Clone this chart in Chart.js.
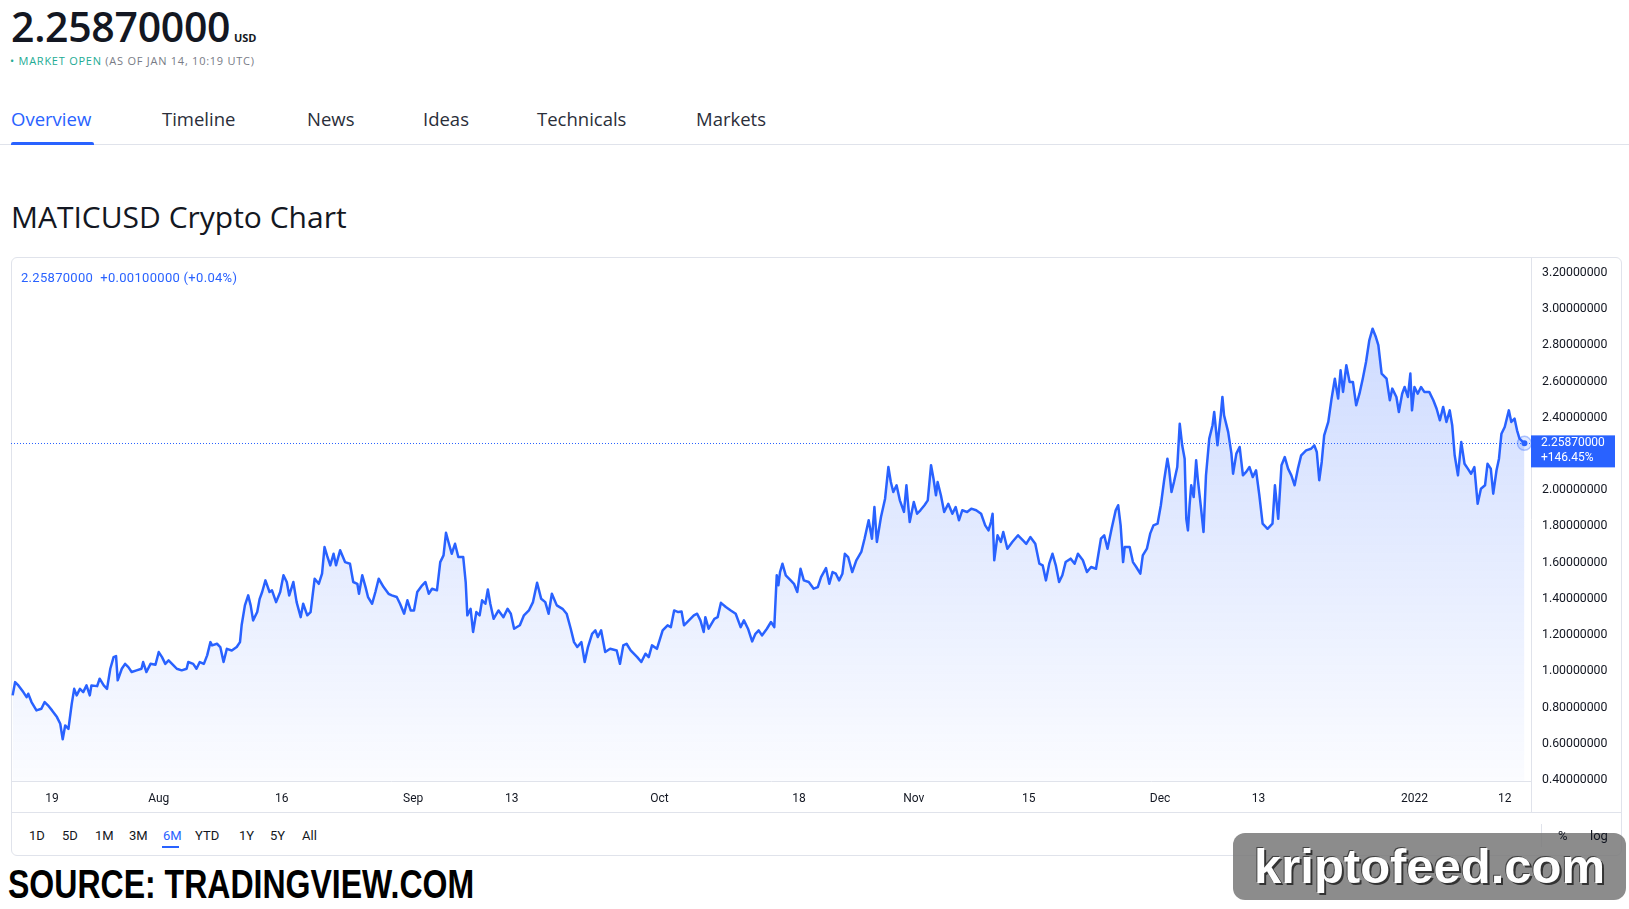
<!DOCTYPE html>
<html>
<head>
<meta charset="utf-8">
<title>MATICUSD Crypto Chart</title>
<script src="https://cdn.jsdelivr.net/npm/chart.js@4.4.1/dist/chart.umd.min.js"></script>
<style>
  body { margin: 0; width: 1629px; height: 909px; background: #fff; position: relative; overflow: hidden;
         font-family: "Open Sans", sans-serif; color: #131722; }
  .abs { position: absolute; white-space: nowrap; line-height: 1; }
  #price { left: 11px; top: 6px; font-size: 41px; font-weight: 600; letter-spacing: -0.3px; }
  #usd { left: 234px; top: 32px; font-size: 11px; font-weight: 700; }
  #market { left: 10px; top: 55px; font-size: 11px; letter-spacing: 0.75px; color: #787b86; }
  #market .open { color: #22ab94; }
  .tab { top: 110px; font-size: 18.5px; color: #2a2e39; }
  .tab.active { color: #2962ff; }
  #tabline { left: 11px; top: 142px; width: 83px; height: 3px; background: #2962ff; border-radius: 2px 2px 0 0; }
  #tabsep { left: 0; top: 144px; width: 1629px; height: 1px; background: #e0e3eb; }
  #title { left: 11px; top: 202px; font-size: 30px; }
  #box { position: absolute; left: 11px; top: 257px; width: 1609px; height: 597px; border: 1px solid #e0e3eb; border-radius: 6px; }
  #legend { left: 21px; top: 271px; font-family: Roboto, sans-serif; font-size: 13px; letter-spacing: 0.3px; color: #2962ff; }
  #chartWrap { position: absolute; left: 11px; top: 257px; width: 1611px; height: 555px; }
  #bottomLine { position: absolute; left: 11px; top: 812px; width: 1611px; height: 1px; background: #e0e3eb; }
  #axisTail { position: absolute; left: 1531px; top: 781px; width: 1px; height: 31px; background: #e0e3eb; }
  .rng { top: 829px; font-family: Roboto, sans-serif; font-size: 13px; color: #131722; z-index: 3; }
  .rng.active { color: #2962ff; }
  #rngline { left: 162px; top: 846px; width: 17px; height: 2px; background: #2962ff; }
  #scalesep { position: absolute; left: 1541px; top: 824px; width: 1px; height: 23px; background: #e0e3eb; }
  #source { left: 8px; top: 864px; font-family: "Liberation Sans Narrow", "Liberation Sans", sans-serif; font-weight: 700;
            font-size: 40px; color: #000; transform-origin: 0 0; }
  #wm { position: absolute; left: 1233px; top: 833px; width: 393px; height: 67px; background: rgba(120,120,120,0.85);
        border-radius: 12px; z-index: 2; }
  #wmText { left: 1254px; top: 843px; font-family: "Liberation Sans Narrow", "Liberation Sans", sans-serif; font-weight: 700;
            font-size: 48px; color: #fff; text-shadow: 2px 2px 0 #333, -1px -1px 0 #444; transform-origin: 0 0; z-index: 4; }
</style>
</head>
<body>
<div class="abs" id="price">2.25870000</div>
<div class="abs" id="usd">USD</div>
<div class="abs" id="market"><span class="open">&bull; MARKET OPEN</span> (AS OF JAN 14, 10:19 UTC)</div>

<div class="abs tab active" style="left:11px">Overview</div>
<div class="abs tab" style="left:162px">Timeline</div>
<div class="abs tab" style="left:307px">News</div>
<div class="abs tab" style="left:423px">Ideas</div>
<div class="abs tab" style="left:537px">Technicals</div>
<div class="abs tab" style="left:696px">Markets</div>
<div class="abs" id="tabsep"></div>
<div class="abs" id="tabline"></div>

<div class="abs" id="title">MATICUSD Crypto Chart</div>

<div id="box"></div>
<div id="chartWrap"><canvas id="maticChart" width="1611" height="555"></canvas></div>
<div class="abs" id="legend">2.25870000&nbsp; +0.00100000 (+0.04%)</div>
<div id="axisTail"></div>
<div id="bottomLine"></div>

<div class="abs rng" style="left:29px">1D</div>
<div class="abs rng" style="left:62px">5D</div>
<div class="abs rng" style="left:95px">1M</div>
<div class="abs rng" style="left:129px">3M</div>
<div class="abs rng active" style="left:163px">6M</div>
<div class="abs rng" style="left:195px">YTD</div>
<div class="abs rng" style="left:239px">1Y</div>
<div class="abs rng" style="left:270px">5Y</div>
<div class="abs rng" style="left:302px">All</div>
<div class="abs" id="rngline"></div>
<div id="scalesep"></div>
<div class="abs rng" style="left:1558px">%</div>
<div class="abs rng" style="left:1590px">log</div>

<div class="abs" id="source">SOURCE: TRADINGVIEW.COM</div>
<div id="wm"></div>
<div class="abs" id="wmText">kriptofeed.com</div>

<script>
// days since Jul 14 2021
const days = [
    0.2, 0.5, 0.9, 1.5, 1.9, 2.1, 2.5, 3.1, 3.7, 4.1, 4.5, 5.0, 5.6, 6.0, 6.3, 6.6, 7.0, 7.4, 7.7, 8.0,
    8.4, 8.8, 9.2, 9.6, 9.8, 10.5, 10.8, 11.3, 11.7, 12.1, 12.5, 12.8, 13.0, 13.5, 13.9, 14.3, 14.7, 15.3, 15.9, 16.1,
    16.5, 17.0, 17.6, 18.0, 18.4, 18.8, 19.2, 19.8, 20.2, 20.8, 21.4, 21.6, 22.2, 22.6, 23.0, 23.5, 23.9, 24.3, 24.5, 25.1,
    25.5, 25.9, 26.3, 26.9, 27.5, 27.9, 28.1, 28.5, 28.9, 29.2, 29.5, 30.0, 30.3, 30.6, 31.0, 31.5, 31.8, 32.3, 32.8, 33.2,
    33.6, 33.9, 34.4, 34.8, 35.3, 35.6, 36.1, 36.5, 37.0, 37.5, 37.9, 38.2, 38.5, 38.9, 39.3, 39.6, 40.1, 40.7, 41.3, 41.7,
    42.2, 42.4, 42.8, 43.2, 43.5, 44.0, 44.4, 44.8, 45.4, 46.0, 46.4, 47.0, 47.4, 47.9, 48.3, 48.7, 49.1, 49.5, 50.1, 50.5,
    50.9, 51.3, 51.9, 52.3, 52.7, 53.0, 53.3, 53.7, 54.1, 54.5, 55.1, 55.4, 55.6, 56.0, 56.3, 56.7, 57.1, 57.4, 57.8, 58.1,
    58.4, 58.8, 59.4, 60.0, 60.5, 60.9, 61.3, 62.0, 62.5, 63.1, 63.6, 64.1, 64.6, 65.1, 65.5, 65.9, 66.5, 67.2, 67.7, 68.2,
    68.6, 69.0, 69.5, 69.9, 70.3, 70.8, 71.2, 71.5, 71.9, 72.4, 73.0, 73.8, 74.2, 74.6, 75.0, 75.5, 76.3, 76.8, 77.3, 77.7,
    78.1, 78.7, 79.4, 80.0, 80.4, 80.8, 81.3, 81.7, 82.0, 82.6, 83.2, 83.6, 84.0, 84.4, 84.6, 85.0, 85.7, 86.1, 86.5, 87.1,
    87.7, 88.3, 88.9, 89.3, 89.8, 90.3, 90.7, 91.1, 91.5, 92.1, 92.6, 93.0, 93.3, 93.5, 93.7, 94.0, 94.4, 95.0, 95.4, 95.8,
    96.2, 96.6, 97.2, 97.8, 98.3, 98.7, 99.3, 99.7, 100.1, 100.5, 100.9, 101.3, 101.6, 102.0, 102.5, 103.0, 103.6, 104.0, 104.5, 104.9,
    105.2, 105.5, 106.0, 106.5, 106.9, 107.2, 107.5, 107.9, 108.3, 108.8, 109.1, 109.5, 110.0, 110.4, 110.8, 111.3, 111.7, 112.1, 112.4, 112.7,
    112.9, 113.3, 113.7, 114.2, 114.7, 115.1, 115.5, 115.9, 116.5, 117.0, 117.6, 118.2, 118.7, 119.1, 119.4, 119.6, 119.8, 120.2, 120.6, 120.9,
    121.4, 122.0, 122.7, 123.3, 123.7, 124.2, 124.8, 125.3, 125.7, 126.1, 126.5, 126.9, 127.3, 127.7, 128.1, 128.5, 129.1, 129.6, 130.0, 130.6,
    131.1, 131.6, 132.2, 132.8, 133.2, 133.6, 134.1, 134.6, 134.9, 135.2, 135.5, 135.7, 136.3, 136.7, 137.1, 137.6, 137.9, 138.4, 138.8, 139.2,
    139.7, 140.1, 140.5, 140.9, 141.1, 141.4, 141.7, 142.1, 142.4, 142.7, 143.0, 143.2, 143.4, 143.6, 143.8, 144.1, 144.4, 144.6, 145.0, 145.3,
    145.6, 146.0, 146.4, 146.6, 147.0, 147.4, 147.6, 147.8, 148.3, 148.7, 148.9, 149.3, 149.7, 150.1, 150.5, 150.9, 151.3, 151.7, 152.1, 152.5,
    153.1, 153.7, 154.0, 154.4, 154.8, 155.2, 155.6, 156.0, 156.4, 156.8, 157.2, 157.8, 158.4, 158.8, 159.1, 159.4, 159.7, 160.0, 160.5, 160.9,
    161.3, 161.7, 162.0, 162.3, 162.7, 163.1, 163.5, 163.9, 164.3, 164.7, 165.1, 165.5, 165.9, 166.3, 166.6, 167.0, 167.6, 168.0, 168.3, 168.8,
    169.1, 169.5, 169.8, 170.2, 170.5, 170.7, 171.0, 171.4, 171.8, 172.2, 172.8, 173.3, 173.7, 174.1, 174.5, 174.9, 175.3, 175.6, 175.9, 176.3,
    176.7, 177.1, 177.5, 177.9, 178.3, 178.7, 179.1, 179.6, 179.9, 180.3, 180.6, 181.0, 181.3, 181.6, 182.0, 182.5, 182.8, 183.2, 183.5, 183.8,
    184.4
];
const prices = [
    0.867, 0.940, 0.922, 0.885, 0.857, 0.876, 0.830, 0.784, 0.793, 0.830, 0.812, 0.784, 0.747, 0.710, 0.624, 0.701, 0.682, 0.820, 0.903, 0.867,
    0.903, 0.885, 0.922, 0.867, 0.922, 0.918, 0.959, 0.922, 0.903, 1.014, 1.078, 1.084, 0.950, 1.014, 1.041, 1.023, 0.996, 1.005, 1.014, 1.051,
    0.996, 1.041, 1.036, 1.106, 1.078, 1.041, 1.060, 1.033, 1.014, 1.005, 1.014, 1.051, 1.041, 1.014, 1.051, 1.041, 1.088, 1.161, 1.143, 1.152,
    1.134, 1.051, 1.124, 1.115, 1.134, 1.161, 1.254, 1.364, 1.419, 1.364, 1.281, 1.327, 1.400, 1.438, 1.502, 1.438, 1.447, 1.382, 1.438, 1.530,
    1.493, 1.419, 1.493, 1.382, 1.299, 1.373, 1.309, 1.327, 1.511, 1.483, 1.539, 1.686, 1.640, 1.585, 1.649, 1.585, 1.668, 1.603, 1.594, 1.493,
    1.483, 1.428, 1.530, 1.465, 1.410, 1.373, 1.438, 1.511, 1.465, 1.428, 1.419, 1.410, 1.373, 1.318, 1.392, 1.336, 1.336, 1.438, 1.475, 1.493,
    1.428, 1.456, 1.447, 1.603, 1.640, 1.765, 1.714, 1.649, 1.704, 1.631, 1.631, 1.493, 1.309, 1.345, 1.217, 1.327, 1.309, 1.392, 1.373, 1.452,
    1.373, 1.290, 1.336, 1.299, 1.345, 1.318, 1.235, 1.254, 1.309, 1.336, 1.382, 1.489, 1.400, 1.382, 1.318, 1.428, 1.364, 1.345, 1.318, 1.235,
    1.161, 1.134, 1.161, 1.051, 1.134, 1.207, 1.226, 1.189, 1.226, 1.106, 1.124, 1.115, 1.041, 1.143, 1.152, 1.115, 1.078, 1.051, 1.097, 1.078,
    1.143, 1.124, 1.226, 1.254, 1.244, 1.336, 1.327, 1.330, 1.254, 1.281, 1.309, 1.318, 1.281, 1.217, 1.299, 1.235, 1.290, 1.299, 1.378, 1.355,
    1.336, 1.318, 1.244, 1.281, 1.235, 1.165, 1.207, 1.226, 1.198, 1.235, 1.272, 1.244, 1.530, 1.475, 1.548, 1.594, 1.530, 1.502, 1.483, 1.438,
    1.566, 1.502, 1.493, 1.456, 1.465, 1.520, 1.570, 1.483, 1.548, 1.539, 1.502, 1.539, 1.649, 1.631, 1.548, 1.613, 1.659, 1.732, 1.834, 1.732,
    1.907, 1.714, 1.852, 1.953, 2.128, 2.045, 1.990, 2.027, 1.944, 1.880, 2.027, 1.824, 1.935, 1.870, 1.889, 1.917, 1.944, 2.138, 2.063, 1.972,
    2.045, 1.972, 1.880, 1.925, 1.870, 1.907, 1.834, 1.889, 1.880, 1.898, 1.889, 1.870, 1.806, 1.778, 1.824, 1.870, 1.613, 1.751, 1.714, 1.769,
    1.677, 1.714, 1.751, 1.723, 1.704, 1.741, 1.704, 1.594, 1.585, 1.502, 1.594, 1.649, 1.585, 1.493, 1.530, 1.603, 1.622, 1.594, 1.649, 1.613,
    1.548, 1.576, 1.566, 1.732, 1.751, 1.677, 1.787, 1.889, 1.917, 1.806, 1.603, 1.686, 1.686, 1.603, 1.576, 1.539, 1.640, 1.677, 1.760, 1.806,
    1.815, 1.917, 2.055, 2.174, 2.119, 1.990, 2.045, 2.128, 2.367, 2.248, 2.174, 1.842, 1.778, 1.917, 2.027, 1.962, 2.165, 2.063, 1.898, 1.769,
    2.082, 2.285, 2.359, 2.432, 2.248, 2.414, 2.515, 2.414, 2.322, 2.202, 2.091, 2.202, 2.239, 2.082, 2.101, 2.128, 2.073, 2.110, 1.972, 1.815,
    1.787, 1.815, 2.027, 1.842, 2.138, 2.183, 2.119, 2.082, 2.027, 2.119, 2.193, 2.220, 2.229, 2.248, 2.211, 2.055, 2.156, 2.303, 2.377, 2.506,
    2.616, 2.506, 2.662, 2.543, 2.690, 2.598, 2.598, 2.469, 2.533, 2.616, 2.708, 2.828, 2.892, 2.846, 2.801, 2.644, 2.616, 2.497, 2.561, 2.515,
    2.432, 2.533, 2.570, 2.515, 2.644, 2.441, 2.570, 2.533, 2.570, 2.543, 2.543, 2.497, 2.450, 2.386, 2.460, 2.377, 2.441, 2.359, 2.193, 2.082,
    2.266, 2.146, 2.119, 2.091, 2.128, 1.925, 2.008, 2.027, 2.146, 2.119, 1.981, 2.110, 2.174, 2.312, 2.349, 2.441, 2.377, 2.395, 2.331, 2.285,
    2.2587
];

const xTickDays = [5, 18, 33, 49, 61, 79, 96, 110, 124, 140, 152, 171, 182];
const xTickLabels = ['19', 'Aug', '16', 'Sep', '13', 'Oct', '18', 'Nov', '15', 'Dec', '13', '2022', '12'];
const yTicks = [0.4, 0.6, 0.8, 1.0, 1.2, 1.4, 1.6, 1.8, 2.0, 2.2, 2.4, 2.6, 2.8, 3.0, 3.2];
const changeText = '+146.45%';

const BLUE = '#2962ff';

// dotted last-price line, end marker and price tag on the axis
const lastPricePlugin = {
    id: 'lastPrice',
    beforeDatasetsDraw(chart) {
        const { ctx, chartArea, scales } = chart;
        const y = Math.round(scales.y.getPixelForValue(prices[prices.length - 1])) + 0.5;
        ctx.save();
        ctx.strokeStyle = BLUE;
        ctx.lineWidth = 1;
        ctx.setLineDash([1, 2]);
        ctx.beginPath();
        ctx.moveTo(chartArea.left, y);
        ctx.lineTo(chartArea.right, y);
        ctx.stroke();
        ctx.restore();
    },
    afterDatasetsDraw(chart) {
        const { ctx } = chart;
        const pt = chart.getDatasetMeta(0).data[prices.length - 1];
        ctx.save();
        ctx.beginPath();
        ctx.arc(pt.x, pt.y, 7, 0, Math.PI * 2);
        ctx.fillStyle = 'rgba(41,98,255,0.15)';
        ctx.fill();
        ctx.lineWidth = 1.5;
        ctx.strokeStyle = 'rgba(41,98,255,0.35)';
        ctx.stroke();
        ctx.beginPath();
        ctx.arc(pt.x, pt.y, 3, 0, Math.PI * 2);
        ctx.fillStyle = BLUE;
        ctx.fill();
        ctx.restore();
    },
    afterDraw(chart) {
        const { ctx, chartArea, scales } = chart;
        const last = prices[prices.length - 1];
        const y = scales.y.getPixelForValue(last);
        ctx.save();
        ctx.fillStyle = BLUE;
        ctx.fillRect(chartArea.right, y - 8, 84, 32);
        ctx.fillStyle = '#fff';
        ctx.font = '12px Roboto';
        ctx.textBaseline = 'middle';
        ctx.textAlign = 'left';
        ctx.fillText(last.toFixed(8), chartArea.right + 10, y);
        ctx.fillText(changeText, chartArea.right + 10, y + 15);
        ctx.restore();
    }
};

Chart.defaults.font.family = 'Roboto, sans-serif';

const ctx = document.getElementById('maticChart').getContext('2d');
new Chart(ctx, {
    type: 'line',
    data: {
        datasets: [{
            data: days.map((d, i) => ({ x: d, y: prices[i] })),
            borderColor: BLUE,
            borderWidth: 2.5,
            borderJoinStyle: 'round',
            pointRadius: 0,
            tension: 0,
            fill: 'start',
            backgroundColor: context => {
                const area = context.chart.chartArea;
                if (!area) return 'rgba(41,98,255,0.1)';
                const g = context.chart.ctx.createLinearGradient(0, area.top, 0, area.bottom);
                g.addColorStop(0, 'rgba(41,98,255,0.26)');
                g.addColorStop(1, 'rgba(41,98,255,0.02)');
                return g;
            }
        }]
    },
    options: {
        responsive: false,
        animation: false,
        layout: { padding: 0 },
        plugins: { legend: { display: false }, tooltip: { enabled: false } },
        scales: {
            x: {
                type: 'linear',
                min: 0,
                max: 185.2,
                grid: { display: false, drawTicks: false },
                border: { color: '#e0e3eb' },
                ticks: {
                    color: '#131722',
                    font: { size: 12 },
                    padding: 11,
                    maxRotation: 0,
                    autoSkip: false,
                    callback: (v, i) => xTickLabels[i]
                },
                afterBuildTicks: scale => { scale.ticks = xTickDays.map(v => ({ value: v })); },
                afterFit: scale => {
                    scale.height = 31;
                    scale.paddingLeft = 0;
                    scale.paddingRight = 0;
                }
            },
            y: {
                position: 'right',
                min: 0.394,
                max: 3.288,
                grid: { display: false, drawTicks: false },
                border: { color: '#e0e3eb' },
                ticks: {
                    color: '#131722',
                    font: { size: 12.3 },
                    padding: 11,
                    callback: v => v.toFixed(8)
                },
                afterBuildTicks: scale => { scale.ticks = yTicks.map(v => ({ value: v })); },
                afterFit: scale => {
                    scale.width = 91;
                    scale.paddingTop = 0;
                    scale.paddingBottom = 0;
                }
            }
        }
    },
    plugins: [lastPricePlugin]
});

// squeeze the condensed captions to the reference widths
function fitWidth(id, w) {
    const el = document.getElementById(id);
    el.style.transform = 'scaleX(' + (w / el.offsetWidth) + ')';
}
fitWidth('source', 466);
fitWidth('wmText', 351);
</script>
</body>
</html>
